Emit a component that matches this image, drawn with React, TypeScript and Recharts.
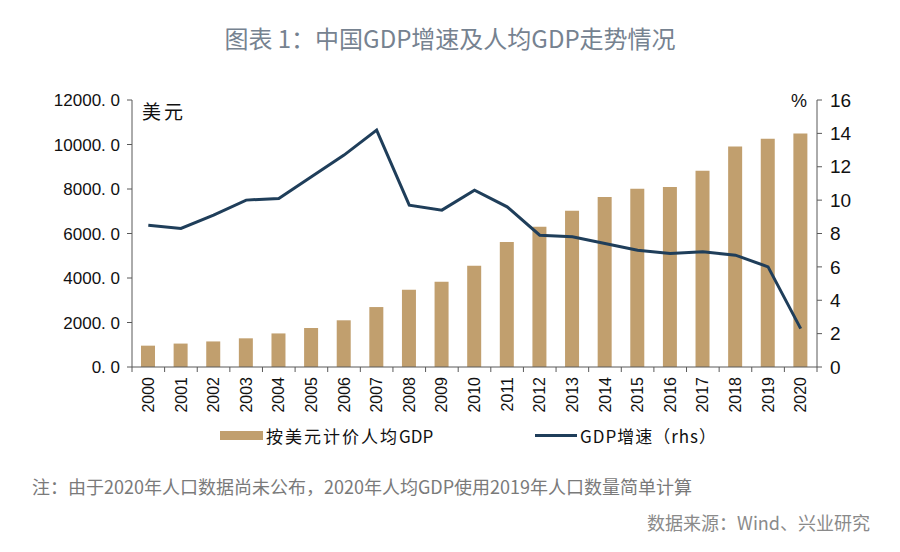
import { ComposedChart, Bar, Line, XAxis, YAxis } from 'recharts'

const years = ['2000', '2001', '2002', '2003', '2004', '2005', '2006', '2007', '2008', '2009', '2010',
  '2011', '2012', '2013', '2014', '2015', '2016', '2017', '2018', '2019', '2020']
const gdpPerCapita = [959, 1053, 1149, 1289, 1509, 1753, 2099, 2694, 3468, 3832, 4550,
  5614, 6301, 7020, 7636, 8016, 8094, 8817, 9905, 10262, 10500]
const gdpGrowth = [8.5, 8.3, 9.1, 10.0, 10.1, 11.4, 12.7, 14.2, 9.7, 9.4, 10.6,
  9.6, 7.9, 7.8, 7.4, 7.0, 6.8, 6.9, 6.7, 6.0, 2.3]
const leftTicks = [0, 2000, 4000, 6000, 8000, 10000, 12000]
const rightTicks = [0, 2, 4, 6, 8, 10, 12, 14, 16]

const data = years.map((year, i) => ({ year, gdp: gdpPerCapita[i], growth: gdpGrowth[i] }))

const BAR = '#c19f6e'
const LINE = '#1f3e5a'
const AXIS = '#595959'
const SANS = '"Liberation Sans", Arial, sans-serif'
const CJK = '"Noto Sans CJK SC", "Noto Sans", sans-serif'

// year label rotated, plus a tick mark on the band boundary instead of the center
function YearTick(props: any) {
  const { x, y, payload, width, visibleTicksCount, index } = props
  const band = width / visibleTicksCount
  const bx = x - band / 2
  return (
    <g>
      <line x1={bx} y1={y - 8} x2={bx} y2={y - 3} stroke={AXIS} />
      {index === visibleTicksCount - 1 && (
        <line x1={bx + band} y1={y - 8} x2={bx + band} y2={y - 3} stroke={AXIS} />
      )}
      <text x={x} y={y + 2} transform={`rotate(-90 ${x} ${y + 2})`} textAnchor="end" dy="0.35em"
        fontSize={16} fontFamily={SANS} fill="#111">
        {payload.value}
      </text>
    </g>
  )
}

export default function App() {
  return (
    <div style={{ position: 'absolute', left: 0, top: 0, width: 900, height: 552, background: '#fff', fontFamily: CJK }}>
      <div style={{ position: 'absolute', top: 20, left: 0, width: 900, textAlign: 'center', fontSize: 24, fontWeight: 400, color: '#768290' }}>
        图表 1：中国GDP增速及人均GDP走势情况
      </div>
      <ComposedChart width={900} height={552} data={data} margin={{ top: 100, right: 0, bottom: 140, left: 0 }}>
        <XAxis dataKey="year" tickLine={false} axisLine={{ stroke: AXIS }} tick={<YearTick />} interval={0} height={45} />
        <YAxis yAxisId="l" domain={[0, 12000]} ticks={leftTicks} width={132}
          tickFormatter={(v: number) => v.toFixed(1).replace('.', '. ')}
          tick={{ fontSize: 17, fill: '#111', fontFamily: SANS }} tickSize={5} tickMargin={7}
          stroke={AXIS} tickLine={{ stroke: AXIS }} />
        <YAxis yAxisId="r" orientation="right" domain={[0, 16]} ticks={rightTicks} width={83}
          tick={{ fontSize: 19, fill: '#111', fontFamily: SANS }} tickSize={5} tickMargin={8}
          stroke={AXIS} tickLine={{ stroke: AXIS }} />
        <Bar yAxisId="l" dataKey="gdp" fill={BAR} barSize={14} isAnimationActive={false} />
        <Line yAxisId="r" dataKey="growth" type="linear" stroke={LINE} strokeWidth={3} dot={false} isAnimationActive={false} />
      </ComposedChart>
      <div style={{ position: 'absolute', left: 142, top: 97, fontSize: 19, color: '#111', fontFamily: '"Noto Sans CJK SC", serif', letterSpacing: 3 }}>美元</div>
      <div style={{ position: 'absolute', left: 791, top: 91, fontSize: 18, color: '#111', fontFamily: SANS }}>%</div>
      <div style={{ position: 'absolute', left: 220, top: 423, display: 'flex', alignItems: 'center', fontSize: 17, color: '#111' }}>
        <span style={{ display: 'inline-block', width: 43, height: 9, background: BAR, marginRight: 3 }} />
        <span><span style={{ letterSpacing: 2 }}>按美元计价人均</span>GDP</span>
      </div>
      <div style={{ position: 'absolute', left: 535, top: 423, display: 'flex', alignItems: 'center', fontSize: 17, color: '#111' }}>
        <span style={{ display: 'inline-block', width: 42, height: 3, background: LINE, marginRight: 3 }} />
        <span style={{ letterSpacing: 1 }}>GDP增速（rhs）</span>
      </div>
      <div style={{ position: 'absolute', left: 32, top: 473, fontSize: 18, color: '#7a7a7a' }}>
        注：由于2020年人口数据尚未公布，2020年人均GDP使用2019年人口数量简单计算
      </div>
      <div style={{ position: 'absolute', right: 30, top: 509, fontSize: 18, color: '#8a8a8a' }}>
        数据来源：Wind、兴业研究
      </div>
    </div>
  )
}
